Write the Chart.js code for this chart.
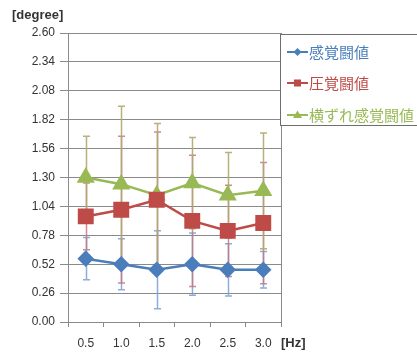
<!DOCTYPE html>
<html>
<head>
<meta charset="utf-8">
<script src="https://cdn.jsdelivr.net/npm/chart.js@4/dist/chart.umd.min.js"></script>
<style>
  html, body { margin: 0; padding: 0; background: #ffffff; }
  #wrap { position: relative; width: 417px; height: 352px; }
  canvas { display: block; }
</style>
</head>
<body>
<div id="wrap"><canvas id="c" width="417" height="352"></canvas></div>
<script>
// Stimulus frequency (Hz)
const labels = ['0.5', '1.0', '1.5', '2.0', '2.5', '3.0'];

// Threshold means and standard deviations [degree]
const senseMean    = [0.57, 0.52, 0.47, 0.52, 0.47, 0.47];
const senseSD      = [0.19, 0.23, 0.35, 0.28, 0.235, 0.165];
const pressureMean = [0.95, 1.01, 1.10, 0.91, 0.82, 0.89];
const pressureSD   = [0.30, 0.66, 0.61, 0.59, 0.41, 0.545];
const shearMean    = [1.30, 1.24, 1.14, 1.25, 1.14, 1.18];
const shearSD      = [0.37, 0.70, 0.645, 0.41, 0.385, 0.52];

const seriesNames = ['感覚闘値', '圧覚闘値', '横ずれ感覚闘値'];
const yTicks = [0, 0.26, 0.52, 0.78, 1.04, 1.30, 1.56, 1.82, 2.08, 2.34, 2.60];

const GRID = '#8a8a8a';
const TEXT = '#333333';

// Vertical error bars with caps, drawn beneath the series lines
const errorBars = {
  id: 'errorBars',
  beforeDatasetsDraw(chart) {
    const ctx = chart.ctx;
    const y = chart.scales.y;
    chart.data.datasets.forEach((ds, i) => {
      const meta = chart.getDatasetMeta(i);
      ctx.save();
      ctx.strokeStyle = ds.errorColor;
      ctx.lineWidth = 1.5;
      meta.data.forEach((pt, j) => {
        const v = ds.data[j], e = ds.sd[j];
        const x = Math.round(pt.x) + 0.5;
        const top = y.getPixelForValue(v + e);
        const bot = y.getPixelForValue(v - e);
        ctx.beginPath();
        ctx.moveTo(x, top); ctx.lineTo(x, bot);
        ctx.moveTo(x - 3.5, top); ctx.lineTo(x + 3.5, top);
        ctx.moveTo(x - 3.5, bot); ctx.lineTo(x + 3.5, bot);
        ctx.stroke();
      });
      ctx.restore();
    });
  }
};

// Plot frame, axis titles and the boxed legend
const decorations = {
  id: 'decorations',
  afterDraw(chart) {
    const ctx = chart.ctx;
    const a = chart.chartArea;
    ctx.save();
    // right edge of the plot area
    ctx.strokeStyle = GRID;
    ctx.lineWidth = 1;
    ctx.beginPath();
    ctx.moveTo(Math.round(a.right) + 0.5, a.top);
    ctx.lineTo(Math.round(a.right) + 0.5, a.bottom + 5);
    ctx.stroke();

    // axis titles
    ctx.fillStyle = TEXT;
    ctx.font = 'bold 13px "Liberation Sans", Arial, sans-serif';
    ctx.textBaseline = 'middle';
    ctx.textAlign = 'left';
    ctx.fillText('[degree]', 12, 15);
    ctx.fillText('[Hz]', 281, 343);

    // legend box
    const lx = 280.5, ly = 34.5, lw = 150, lh = 91;
    ctx.fillStyle = '#ffffff';
    ctx.fillRect(lx, ly, lw, lh);
    ctx.strokeStyle = '#6e6e6e';
    ctx.lineWidth = 1;
    ctx.strokeRect(lx, ly, lw, lh);

    const rowY = [52, 83, 115];
    chart.data.datasets.forEach((ds, i) => {
      const yy = rowY[i];
      ctx.strokeStyle = ds.borderColor;
      ctx.lineWidth = 2;
      ctx.beginPath();
      ctx.moveTo(287, yy); ctx.lineTo(308, yy);
      ctx.stroke();
      ctx.fillStyle = ds.borderColor;
      ctx.beginPath();
      if (ds.pointStyle === 'rectRot') {
        ctx.moveTo(297.5, yy - 4); ctx.lineTo(301.5, yy); ctx.lineTo(297.5, yy + 4); ctx.lineTo(293.5, yy);
      } else if (ds.pointStyle === 'rect') {
        ctx.rect(294, yy - 3.5, 7, 7);
      } else {
        ctx.moveTo(297.5, yy - 4.5); ctx.lineTo(302, yy + 3); ctx.lineTo(293, yy + 3);
      }
      ctx.closePath();
      ctx.fill();
      ctx.font = '15px "Noto Sans CJK JP", sans-serif';
      ctx.textAlign = 'left';
      ctx.textBaseline = 'middle';
      ctx.fillText(ds.label, 309, yy);
    });
    ctx.restore();
  }
};

new Chart(document.getElementById('c'), {
  type: 'line',
  data: {
    labels: labels,
    datasets: [
      {
        label: seriesNames[0], data: senseMean, sd: senseSD,
        borderColor: '#4a7ebb', backgroundColor: '#4a7ebb', errorColor: 'rgba(120,160,210,0.85)',
        borderWidth: 2.5, pointStyle: 'rectRot', pointRadius: 6.5, pointHoverRadius: 6.5, tension: 0
      },
      {
        label: seriesNames[1], data: pressureMean, sd: pressureSD,
        borderColor: '#be4b48', backgroundColor: '#be4b48', errorColor: 'rgba(196,120,128,0.85)',
        borderWidth: 2.5, pointStyle: 'rect', pointRadius: 9.5, pointHoverRadius: 9.5, tension: 0
      },
      {
        label: seriesNames[2], data: shearMean, sd: shearSD,
        borderColor: '#98b954', backgroundColor: '#98b954', errorColor: 'rgba(176,168,110,0.9)',
        borderWidth: 2.5, pointStyle: 'triangle', pointRadius: 8, pointHoverRadius: 8, tension: 0
      }
    ]
  },
  options: {
    responsive: false,
    animation: false,
    events: [],
    layout: { padding: { left: 0, right: 136, top: 33, bottom: 0 } },
    plugins: { legend: { display: false }, tooltip: { enabled: false } },
    scales: {
      x: {
        offset: true,
        grid: { offset: true, drawOnChartArea: false, drawTicks: true, tickLength: 5, color: GRID },
        border: { color: GRID },
        ticks: { color: TEXT, padding: 9, font: { family: '"Liberation Sans", Arial, sans-serif', size: 12 } },
        afterFit(s) { s.height = 30; }
      },
      y: {
        min: 0, max: 2.6,
        afterBuildTicks(s) { s.ticks = yTicks.map(v => ({ value: v })); },
        grid: { color: GRID, tickLength: 8 },
        border: { color: GRID },
        ticks: {
          color: TEXT, padding: 5,
          font: { family: '"Liberation Sans", Arial, sans-serif', size: 12 },
          callback: v => Number(v).toFixed(2)
        },
        afterFit(s) { s.width = 68; }
      }
    }
  },
  plugins: [errorBars, decorations]
});
</script>
</body>
</html>
